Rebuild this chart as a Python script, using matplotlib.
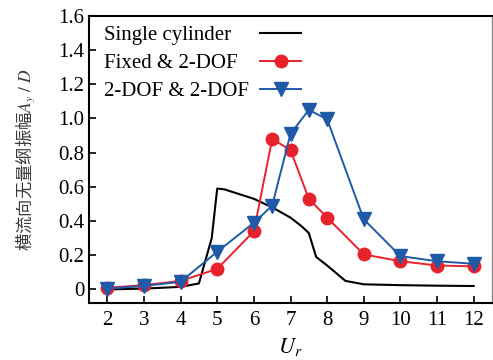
import matplotlib
matplotlib.use("Agg")
import matplotlib.pyplot as plt

plt.rcParams['font.family'] = ['Liberation Serif', 'DejaVu Serif']
plt.rcParams['mathtext.fontset'] = 'stix'

# Data
single_x = [2, 3, 4, 4.5, 4.85, 5.0, 5.2, 6.0, 6.5, 7.0, 7.3, 7.5, 7.7, 8.0, 8.5, 9.0, 10.0, 11.0, 12.0]
single_y = [0.0, 0.005, 0.015, 0.035, 0.30, 0.59, 0.585, 0.53, 0.48, 0.42, 0.37, 0.33, 0.19, 0.14, 0.05, 0.03, 0.025, 0.022, 0.02]

fixed_x = [2, 3, 4, 5, 6, 6.5, 7, 7.5, 8, 9, 10, 11, 12]
fixed_y = [0.01, 0.025, 0.05, 0.12, 0.34, 0.88, 0.815, 0.53, 0.42, 0.205, 0.165, 0.14, 0.135]

dof_x = [2, 3, 4, 5, 6, 6.5, 7, 7.5, 8, 9, 10, 11, 12]
dof_y = [0.005, 0.02, 0.045, 0.22, 0.39, 0.49, 0.91, 1.05, 0.995, 0.41, 0.195, 0.165, 0.15]

xticks = [2, 3, 4, 5, 6, 7, 8, 9, 10, 11, 12]
yticks = [0, 0.2, 0.4, 0.6, 0.8, 1.0, 1.2, 1.4, 1.6]
ytick_labels = ['0', '0.2', '0.4', '0.6', '0.8', '1.0', '1.2', '1.4', '1.6']

fig = plt.figure(figsize=(4.93, 3.6), dpi=100)
ax = fig.add_axes([0.1805, 0.158, 0.8175, 0.798])

ax.plot(single_x, single_y, color='black', lw=1.5, label='Single cylinder')
ax.plot(fixed_x, fixed_y, color='#e8222b', lw=1.4, marker='o', ms=9,
        label='Fixed & 2-DOF')
ax.plot(dof_x, dof_y, color='#1f5aa8', lw=1.4, marker='v', ms=9.5,
        label='2-DOF & 2-DOF')

ax.set_xlim(1.5, 12.5)
ax.set_ylim(-0.08, 1.6)
ax.set_xticks(xticks)
ax.set_yticks(yticks)
ax.set_yticklabels(ytick_labels)
ax.tick_params(direction='in', length=5, width=1.2, labelsize=15)
ax.tick_params(axis='x', pad=6)
for s in ['left', 'bottom', 'top']:
    ax.spines[s].set_linewidth(1.5)
ax.spines['right'].set_linewidth(1.0)
ax.spines['right'].set_color('#888888')

ax.set_xlabel('$U_r$', fontsize=16, labelpad=4)
ax.set_ylabel(r'横流向无量纲振幅$A_y\ /\ D$', fontsize=12.5,
              family=['Noto Sans CJK SC', 'DejaVu Sans'], color='#3a3a3a', labelpad=15)

leg = ax.legend(loc='upper left', bbox_to_anchor=(0.015, 1.0), frameon=False,
                markerfirst=False, fontsize=15,
                handlelength=2.0, labelspacing=0.42, borderaxespad=0.3,
                handletextpad=0.5, borderpad=0.15)

# left-align legend texts while keeping handles aligned in a column
fig.canvas.draw()
r = fig.canvas.get_renderer()
texts = leg.get_texts()
widths = [t.get_window_extent(r).width for t in texts]
maxw = max(widths)
col = leg._legend_handle_box.get_children()[0]
col.align = 'left'
for hp, w in zip(col.get_children(), widths):
    hp.sep += (maxw - w) * 72.0 / fig.dpi

fig.savefig('out.png', dpi=100)
